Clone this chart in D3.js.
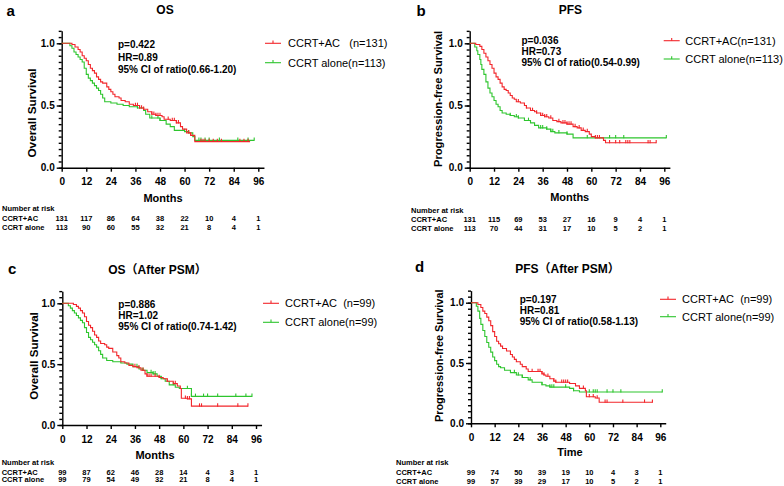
<!DOCTYPE html>
<html><head><meta charset="utf-8">
<script src="https://cdn.jsdelivr.net/npm/d3@7"></script>
<style>
html,body{margin:0;padding:0;background:#fff;}
text{font-family:"Liberation Sans",Arial,"Noto Sans CJK SC",sans-serif;}
</style></head>
<body><svg id="chart" width="784" height="486"></svg>
<script>
// ---------- DATA ----------
const months = [0,12,24,36,48,60,72,84,96];
const yTicks = [0,0.5,1.0];
const groups = ["CCRT+AC","CCRT alone"];

// Panel a: OS
const osAC = [[0,1],[5,0.99],[6.5,0.97],[8,0.95],[9,0.93],[10,0.90],[11,0.88],[12,0.86],[13,0.83],[14,0.80],[15,0.78],[16,0.76],[17,0.73],[18,0.71],[19,0.69],[20,0.68],[22,0.65],[23,0.63],[24,0.61],[25,0.59],[26,0.57],[28,0.56],[29,0.54],[31,0.53],[33,0.51],[35,0.50],[38,0.48],[40,0.47],[42,0.45],[44,0.43],[46,0.42],[49,0.41],[50,0.39],[53,0.38],[56,0.36],[58,0.33],[59,0.31],[61,0.28],[63,0.26],[65,0.21],[92,0.21]];
const osAlone = [[0,1],[4,0.98],[5,0.96],[6,0.93],[7,0.91],[8,0.89],[9,0.87],[10,0.85],[11,0.80],[12,0.75],[13,0.72],[14,0.70],[15,0.68],[16,0.66],[17,0.64],[18,0.62],[19,0.59],[20,0.56],[21,0.53],[24,0.52],[27,0.51],[30,0.50],[33,0.49],[37,0.48],[40,0.46],[41,0.43],[43,0.40],[48,0.38],[51,0.35],[53,0.33],[55,0.30],[60,0.29],[62,0.28],[64,0.25],[65,0.22],[94,0.22]];
const osACCens = [36,37,38,39,40,44,45,46,47,48,52,54,55,56,57,62,63,68,69,70,72,74,76,78,87,89,91];
const osAloneCens = [37,38,44,47,48,60,62,67,68,70,72,77,86,91,94];
const osRiskAC = [131,117,86,64,38,22,10,4,1];
const osRiskAlone = [113,90,60,55,32,21,8,4,1];
const osStats = ["p=0.422","HR=0.89","95% CI of ratio(0.66-1.20)"];
const osLegend = ["CCRT+AC   (n=131)","CCRT alone(n=113)"];

// Panel b: PFS
const pfsAC = [[0,1],[3,0.99],[5,0.975],[6,0.95],[7,0.92],[8,0.89],[9,0.86],[10,0.83],[11,0.80],[12,0.76],[13,0.73],[14,0.71],[15,0.68],[16,0.65],[17,0.63],[18,0.62],[19,0.60],[20,0.58],[21,0.56],[22,0.55],[23,0.53],[25,0.52],[27,0.50],[28,0.48],[30,0.46],[32,0.45],[33,0.44],[35,0.42],[37,0.41],[39,0.40],[41,0.38],[43,0.37],[45,0.36],[48,0.35],[51,0.33],[53,0.32],[55,0.30],[57,0.29],[59,0.27],[60,0.25],[62,0.24],[66,0.22],[67,0.20],[92,0.20]];
const pfsAlone = [[0,1],[2.5,0.97],[3.5,0.94],[4,0.91],[5,0.87],[5.5,0.83],[6,0.79],[7,0.75],[8,0.69],[9,0.64],[10,0.60],[11,0.57],[12,0.54],[13,0.51],[14,0.49],[15,0.46],[16,0.44],[18,0.43],[20,0.42],[22,0.41],[24,0.40],[27,0.38],[30,0.36],[32,0.34],[34,0.32],[38,0.31],[40,0.29],[42,0.28],[48,0.27],[51,0.24],[97,0.24]];
const pfsACCens = [24,28,31,33,35,36,37,38,40,44,46,47,48,49,50,52,54,56,58,62,63,64,69,72,74,77,78,79,88,89,92];
const pfsAloneCens = [20,23,24,29,35,36,38,40,41,44,48,58,69,72,76,97];
const pfsRiskAC = [131,115,69,53,27,16,9,4,1];
const pfsRiskAlone = [113,70,44,31,17,10,5,2,1];
const pfsStats = ["p=0.036","HR=0.73","95% CI of ratio(0.54-0.99)"];
const pfsLegend = ["CCRT+AC(n=131)","CCRT alone(n=113)"];

// Panel c: OS after PSM
const osPsmAC = [[0,1],[5.5,0.99],[7,0.975],[8,0.96],[9,0.94],[10,0.92],[11,0.89],[12,0.85],[13,0.82],[14,0.80],[15,0.77],[16,0.74],[17,0.72],[18,0.69],[19,0.67],[21,0.66],[22,0.64],[23,0.63],[25,0.60],[27,0.57],[28,0.55],[29,0.52],[31,0.51],[33,0.49],[35,0.48],[37,0.47],[39,0.45],[41,0.42],[42,0.40],[48,0.39],[50,0.38],[52,0.36],[55,0.34],[57,0.32],[58.5,0.30],[59,0.22],[62,0.215],[64,0.155],[92,0.155]];
const osPsmAlone = [[0,1],[3,0.98],[4,0.96],[5,0.94],[6,0.92],[7,0.90],[8,0.88],[9,0.86],[10,0.84],[11,0.80],[12,0.76],[13,0.72],[14,0.70],[15,0.68],[16,0.66],[17,0.64],[18,0.61],[19,0.58],[20,0.55],[22,0.53],[25,0.52],[29,0.51],[32,0.50],[35,0.48],[38,0.46],[40,0.45],[42,0.43],[45,0.42],[47,0.40],[49,0.38],[51,0.36],[53,0.33],[56,0.31],[58,0.30],[64,0.235],[94,0.235]];
const osPsmACCens = [36,38,40,42,43,44,46,48,52,56,61,62,63,68,69,77,87,92];
const osPsmAloneCens = [37,40,44,45,46,49,55,62,64,66,70,72,77,86,91,94];
const osPsmRiskAC = [99,87,62,46,28,14,4,3,1];
const osPsmRiskAlone = [99,79,54,49,32,21,8,4,1];
const osPsmStats = ["p=0.886","HR=1.02","95% CI of ratio(0.74-1.42)"];
const osPsmLegend = ["CCRT+AC  (n=99)","CCRT alone(n=99)"];

// Panel d: PFS after PSM
const pfsPsmAC = [[0,1],[3.5,0.985],[5,0.96],[6,0.93],[7,0.91],[8,0.88],[9,0.85],[10,0.81],[11,0.76],[12,0.72],[13,0.68],[14,0.66],[15,0.64],[16,0.62],[18,0.60],[20,0.57],[21,0.55],[22,0.53],[23,0.51],[25,0.49],[26,0.47],[28,0.45],[29,0.43],[36,0.41],[37,0.40],[38,0.39],[40,0.37],[42,0.35],[43,0.34],[50,0.33],[53,0.31],[55,0.29],[58,0.27],[58.5,0.22],[63,0.21],[65,0.175],[92,0.175]];
const pfsPsmAlone = [[0,1],[2.7,0.97],[3.5,0.93],[4.4,0.87],[5,0.82],[6,0.77],[7,0.72],[8,0.67],[9,0.63],[10,0.59],[11,0.55],[12,0.52],[13,0.49],[14,0.47],[15,0.46],[17,0.44],[20,0.42],[23,0.40],[26,0.38],[29,0.36],[31,0.34],[36,0.32],[38,0.31],[40,0.30],[50,0.29],[52,0.27],[55,0.26],[97,0.26]];
const pfsPsmACCens = [31,34,35,36,37,39,42,43,46,47,48,49,57,60,62,64,68,69,77,88,92];
const pfsPsmAloneCens = [22,24,26,30,36,40,41,42,48,52,60,62,63,64,69,72,76,97];
const pfsPsmRiskAC = [99,74,50,39,19,10,4,3,1];
const pfsPsmRiskAlone = [99,57,39,29,17,10,5,2,1];
const pfsPsmStats = ["p=0.197","HR=0.81","95% CI of ratio(0.58-1.13)"];
const pfsPsmLegend = ["CCRT+AC  (n=99)","CCRT alone(n=99)"];

// ---------- LAYOUT ----------
const RED = "#f2262b", GREEN = "#2ec52e";
const FONT = '"Liberation Sans",Arial,"Noto Sans CJK SC",sans-serif';

const panels = [
 {letter:"a", title:"OS", curves:[osAC,osAlone], cens:[osACCens,osAloneCens], risk:[osRiskAC,osRiskAlone], stats:osStats, legend:osLegend,
  ylab:"Overall Survival", xlab:"Months",
  x0:61.7, x96:258.3, y0:167.7, y1:43.3,
  letterPos:[6.5,15.5], titlePos:[165,13.5], ylabPos:[31.7,113], ylabSize:11.8, xlabPos:[163,201.5],
  statsPos:[118,48.3,12.5], legPos:[265,288,43.3,62.7], riskPos:[2,211.3,220.6,229.8]},
 {letter:"b", title:"PFS", curves:[pfsAC,pfsAlone], cens:[pfsACCens,pfsAloneCens], risk:[pfsRiskAC,pfsRiskAlone], stats:pfsStats, legend:pfsLegend,
  ylab:"Progression-free Survival", xlab:"Months",
  x0:469.7, x96:664.3, y0:167.7, y1:43.3,
  letterPos:[416.5,16], titlePos:[570.3,13.5], ylabPos:[437.7,99], ylabSize:11.2, xlabPos:[569.7,201],
  statsPos:[521.5,44.3,10.8], legPos:[663.7,685.3,40.7,59], riskPos:[411,212.6,221.9,230.6]},
 {letter:"c", title:"OS（After PSM）", curves:[osPsmAC,osPsmAlone], cens:[osPsmACCens,osPsmAloneCens], risk:[osPsmRiskAC,osPsmRiskAlone], stats:osPsmStats, legend:osPsmLegend,
  ylab:"Overall Survival", xlab:"Months",
  x0:62.3, x96:256, y0:425, y1:303.3,
  letterPos:[8,274.3], titlePos:[157.5,274.3], ylabPos:[33.3,356], ylabSize:11.6, xlabPos:[155,459],
  statsPos:[118.3,307.6,11.2], legPos:[263,285,303.3,322.3], riskPos:[1.7,465.4,474.6,482.4]},
 {letter:"d", title:"PFS（After PSM）", curves:[pfsPsmAC,pfsPsmAlone], cens:[pfsPsmACCens,pfsPsmAloneCens], risk:[pfsPsmRiskAC,pfsPsmRiskAlone], stats:pfsPsmStats, legend:pfsPsmLegend,
  ylab:"Progression-free Survival", xlab:"Time",
  x0:471, x96:660.3, y0:423.3, y1:302.7,
  letterPos:[415,271.7], titlePos:[567.5,273.3], ylabPos:[438.7,355.8], ylabSize:10.9, xlabPos:[570,456],
  statsPos:[519.7,302.6,11.2], legPos:[660,682,299.3,316.7], riskPos:[396,465,475,484.4]}
];

const svg = d3.select("#chart");
svg.append("rect").attr("width",784).attr("height",486).attr("fill","#fff");

function survAt(curve, t){
  let s = curve[0][1];
  for (const p of curve){ if (p[0] <= t) s = p[1]; else break; }
  return s;
}

panels.forEach(P => {
  const g = svg.append("g");
  const xMax = 99;
  const x = d3.scaleLinear().domain([0,xMax]).range([P.x0, P.x0 + (P.x96-P.x0)*xMax/96]);
  const y = d3.scaleLinear().domain([0,1]).range([P.y0, P.y1]);
  const colors = [RED, GREEN];

  g.append("text").attr("x",P.letterPos[0]).attr("y",P.letterPos[1]).text(P.letter)
    .attr("font-size",15).attr("font-weight","bold");
  g.append("text").attr("x",P.titlePos[0]).attr("y",P.titlePos[1]).text(P.title)
    .attr("text-anchor","middle").attr("font-size",12).attr("font-weight","bold");

  const yDom = d3.scaleLinear().domain([0,1.1]).range([P.y0, P.y0 - (P.y0-P.y1)*1.1]);
  const yMinor = d3.axisLeft(yDom).tickValues(d3.range(0,1.1001,0.05)).tickSize(3).tickSizeOuter(0).tickFormat("");
  const gy2 = g.append("g").attr("transform",`translate(${P.x0},0)`).call(yMinor);
  const yMajor = d3.axisLeft(yDom).tickValues(yTicks).tickSize(5).tickSizeOuter(0).tickPadding(2).tickFormat(d3.format(".1f"));
  const gy = g.append("g").attr("transform",`translate(${P.x0},0)`).call(yMajor);
  gy.select(".domain").remove();
  const xAxis = d3.axisBottom(x).tickValues(months).tickSize(4).tickSizeOuter(0).tickPadding(6.5);
  const gx = g.append("g").attr("transform",`translate(0,${P.y0})`).call(xAxis);
  [gy, gy2, gx].forEach(a => {
    a.selectAll("path,line").attr("stroke","#000").attr("stroke-width",1.4);
    a.selectAll("text").attr("font-size",10).attr("font-weight","bold").attr("fill","#000").style("font-family",FONT);
  });
  gx.select(".domain").attr("d", `M${P.x0-0.7},0.5H${x(xMax)}`);

  g.append("text").attr("transform",`translate(${P.ylabPos[0]},${P.ylabPos[1]}) rotate(-90)`)
    .attr("text-anchor","middle").attr("dominant-baseline","central")
    .attr("font-size",P.ylabSize).attr("font-weight","bold").text(P.ylab);
  g.append("text").attr("x",P.xlabPos[0]).attr("y",P.xlabPos[1]).attr("text-anchor","middle")
    .attr("font-size",11).attr("font-weight","bold").text(P.xlab);

  const line = d3.line().x(d=>x(d[0])).y(d=>y(d[1])).curve(d3.curveStepAfter);
  [1,0].forEach(i => {
    g.append("path").datum(P.curves[i]).attr("d",line).attr("fill","none")
      .attr("stroke",colors[i]).attr("stroke-width",1.1);
    g.selectAll(null).data(P.cens[i]).enter().append("line")
      .attr("x1",t=>x(t)).attr("x2",t=>x(t))
      .attr("y1",t=>y(survAt(P.curves[i],t))-2.8).attr("y2",t=>y(survAt(P.curves[i],t))+0.5)
      .attr("stroke",colors[i]).attr("stroke-width",1.1);
  });

  P.stats.forEach((s,i) => {
    g.append("text").attr("x",P.statsPos[0]).attr("y",P.statsPos[1]+i*P.statsPos[2])
      .attr("font-size",10).attr("font-weight","bold").text(s);
  });

  P.legend.forEach((s,i) => {
    const ly = P.legPos[2+i];
    g.append("line").attr("x1",P.legPos[0]).attr("x2",P.legPos[0]+16).attr("y1",ly).attr("y2",ly)
      .attr("stroke",colors[i]).attr("stroke-width",1.1);
    g.append("line").attr("x1",P.legPos[0]+8).attr("x2",P.legPos[0]+8).attr("y1",ly-2.8).attr("y2",ly)
      .attr("stroke",colors[i]).attr("stroke-width",1.1);
    g.append("text").attr("x",P.legPos[1]).attr("y",ly+4).attr("font-size",11)
      .style("white-space","pre").attr("xml:space","preserve").text(s);
  });

  const R = P.riskPos;
  g.append("text").attr("x",R[0]).attr("y",R[1]).attr("font-size",7.5).attr("font-weight","bold").text("Number at risk");
  groups.forEach((name,i) => {
    g.append("text").attr("x",R[0]).attr("y",R[2+i]).attr("font-size",7.5).attr("font-weight","bold").text(name);
    g.selectAll(null).data(P.risk[i]).enter().append("text")
      .attr("x",(d,j)=>x(months[j])).attr("y",R[2+i]).attr("text-anchor","middle")
      .attr("font-size",7.5).attr("font-weight","bold").text(d=>d);
  });
});
</script></body></html>
